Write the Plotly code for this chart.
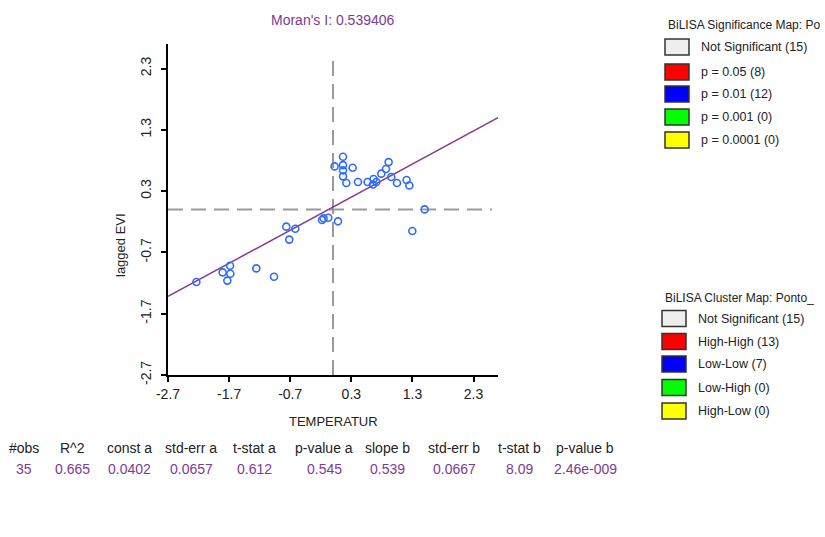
import plotly.graph_objects as go

# ---- data ----
temperatur = [0.164, 0.026, 0.164, 0.321, 0.164, 0.164, 0.218, 0.409, 0.566, 0.664,
              0.654, 0.708, 0.790, 0.867, 0.910, 0.954, 1.047, 1.204, 1.249, 1.499,
              1.298, -0.180, -0.154, -0.077, 0.082, -0.764, -0.617, -0.715, -1.685, -1.806,
              -1.680, -1.729, -2.236, -1.255, -0.965]
lagged_evi = [0.861, 0.703, 0.724, 0.682, 0.639, 0.541, 0.433, 0.449, 0.449, 0.498,
              0.407, 0.449, 0.585, 0.660, 0.773, 0.530, 0.433, 0.481, 0.391, 0.002,
              -0.350, -0.172, -0.144, -0.135, -0.193, -0.280, -0.313, -0.491, -0.917, -1.026,
              -1.047, -1.160, -1.182, -0.961, -1.096]
morans_i = 0.539406
intercept = 0.0402
tick_vals = [-2.7, -1.7, -0.7, 0.3, 1.3, 2.3]
axis_range = [-2.7, 2.7]

stat_headers = ["#obs", "R^2", "const a", "std-err a", "t-stat a", "p-value a",
                "slope b", "std-err b", "t-stat b", "p-value b"]
stat_values = ["35", "0.665", "0.0402", "0.0657", "0.612", "0.545",
               "0.539", "0.0667", "8.09", "2.46e-009"]

sig_title = "BiLISA Significance Map: Po"
sig_labels = ["Not Significant (15)", "p = 0.05 (8)", "p = 0.01 (12)", "p = 0.001 (0)", "p = 0.0001 (0)"]
clu_title = "BiLISA Cluster Map: Ponto_"
clu_labels = ["Not Significant (15)", "High-High (13)", "Low-Low (7)", "Low-High (0)", "High-Low (0)"]
legend_colors = ["#EEEEEE", "#FF0000", "#0000FF", "#00FF00", "#FFFF00"]

# ---- layout geometry ----
W, H = 825, 537
L, R, T, B = 168, 327, 44, 162
PW, PH = W - L - R, H - T - B

def px(x):
    return (x - L) / PW

def py(y):
    return (H - B - y) / PH

purple = "#7E3A94"
font_family = "Arial, Liberation Sans, sans-serif"

fig = go.Figure()

# dashed reference lines
fig.add_trace(go.Scatter(x=[0.0, 0.0], y=[-2.7, 2.55], mode="lines",
                         line=dict(color="#9A9A9A", width=2, dash="15px,8px"),
                         hoverinfo="skip", showlegend=False))
fig.add_trace(go.Scatter(x=[-2.7, 2.6], y=[0.0, 0.0], mode="lines",
                         line=dict(color="#9A9A9A", width=2, dash="15px,8px"),
                         hoverinfo="skip", showlegend=False))

# regression line
fig.add_trace(go.Scatter(x=axis_range, y=[intercept + morans_i * v for v in axis_range],
                         mode="lines", line=dict(color="#8B3A92", width=1.5),
                         hoverinfo="skip", showlegend=False))

# points
fig.add_trace(go.Scatter(x=temperatur, y=lagged_evi, mode="markers",
                         marker=dict(symbol="circle-open", size=7, color="#2F6BFF",
                                     line=dict(width=1.6, color="#2F6BFF")),
                         showlegend=False))

axis_common = dict(range=axis_range, tickvals=tick_vals,
                   ticktext=[f"{v:.1f}" for v in tick_vals],
                   showgrid=False, zeroline=False, showline=True,
                   linecolor="black", linewidth=2, ticks="outside",
                   ticklen=5, tickwidth=2, tickcolor="black",
                   tickfont=dict(family=font_family, size=14, color="#222"),
                   fixedrange=True)

fig.update_xaxes(**axis_common)
fig.update_yaxes(**axis_common, tickangle=-90, ticklabelstandoff=4)

annotations = []

def ann(x, y, text, size, color, xanchor="center", angle=0):
    annotations.append(dict(x=px(x), y=py(y), xref="paper", yref="paper",
                            text=text, showarrow=False, xanchor=xanchor,
                            yanchor="middle", textangle=angle,
                            font=dict(family=font_family, size=size, color=color)))

# title and axis titles
ann(333, 20, f"Moran's I: {morans_i:.6f}", 14, purple)
ann(333, 421, "TEMPERATUR", 13, "#222")
ann(121, 245, "lagged EVI", 13, "#222", angle=-90)

# stats table
col_centers = [24, 72, 129, 191, 254, 324, 387, 454, 519, 585]
for cx, h, v in zip(col_centers, stat_headers, stat_values):
    ann(cx, 448, h, 14, "#222")
    ann(cx, 469, v, 14, purple)

shapes = []

def add_legend(title, labels, title_x, title_y, box_x0, box_x1, centers, text_x):
    ann(title_x, title_y, title, 12, "#222", xanchor="left")
    for cy, lab, col in zip(centers, labels, legend_colors):
        shapes.append(dict(type="rect", xref="paper", yref="paper",
                           x0=px(box_x0), x1=px(box_x1), y0=py(cy + 8), y1=py(cy - 8),
                           fillcolor=col, line=dict(color="#333", width=1.5)))
        ann(text_x, cy, lab, 12.5, "#222", xanchor="left")

add_legend(sig_title, sig_labels, 666, 25, 665, 689, [47, 72, 94, 117, 140], 699)
add_legend(clu_title, clu_labels, 663, 298, 662, 686, [318.5, 341.5, 364, 387.5, 411], 696)

fig.update_layout(width=W, height=H,
                  margin=dict(l=L, r=R, t=T, b=B),
                  paper_bgcolor="white", plot_bgcolor="white",
                  annotations=annotations, shapes=shapes,
                  showlegend=False)

fig.write_html("out.html")
